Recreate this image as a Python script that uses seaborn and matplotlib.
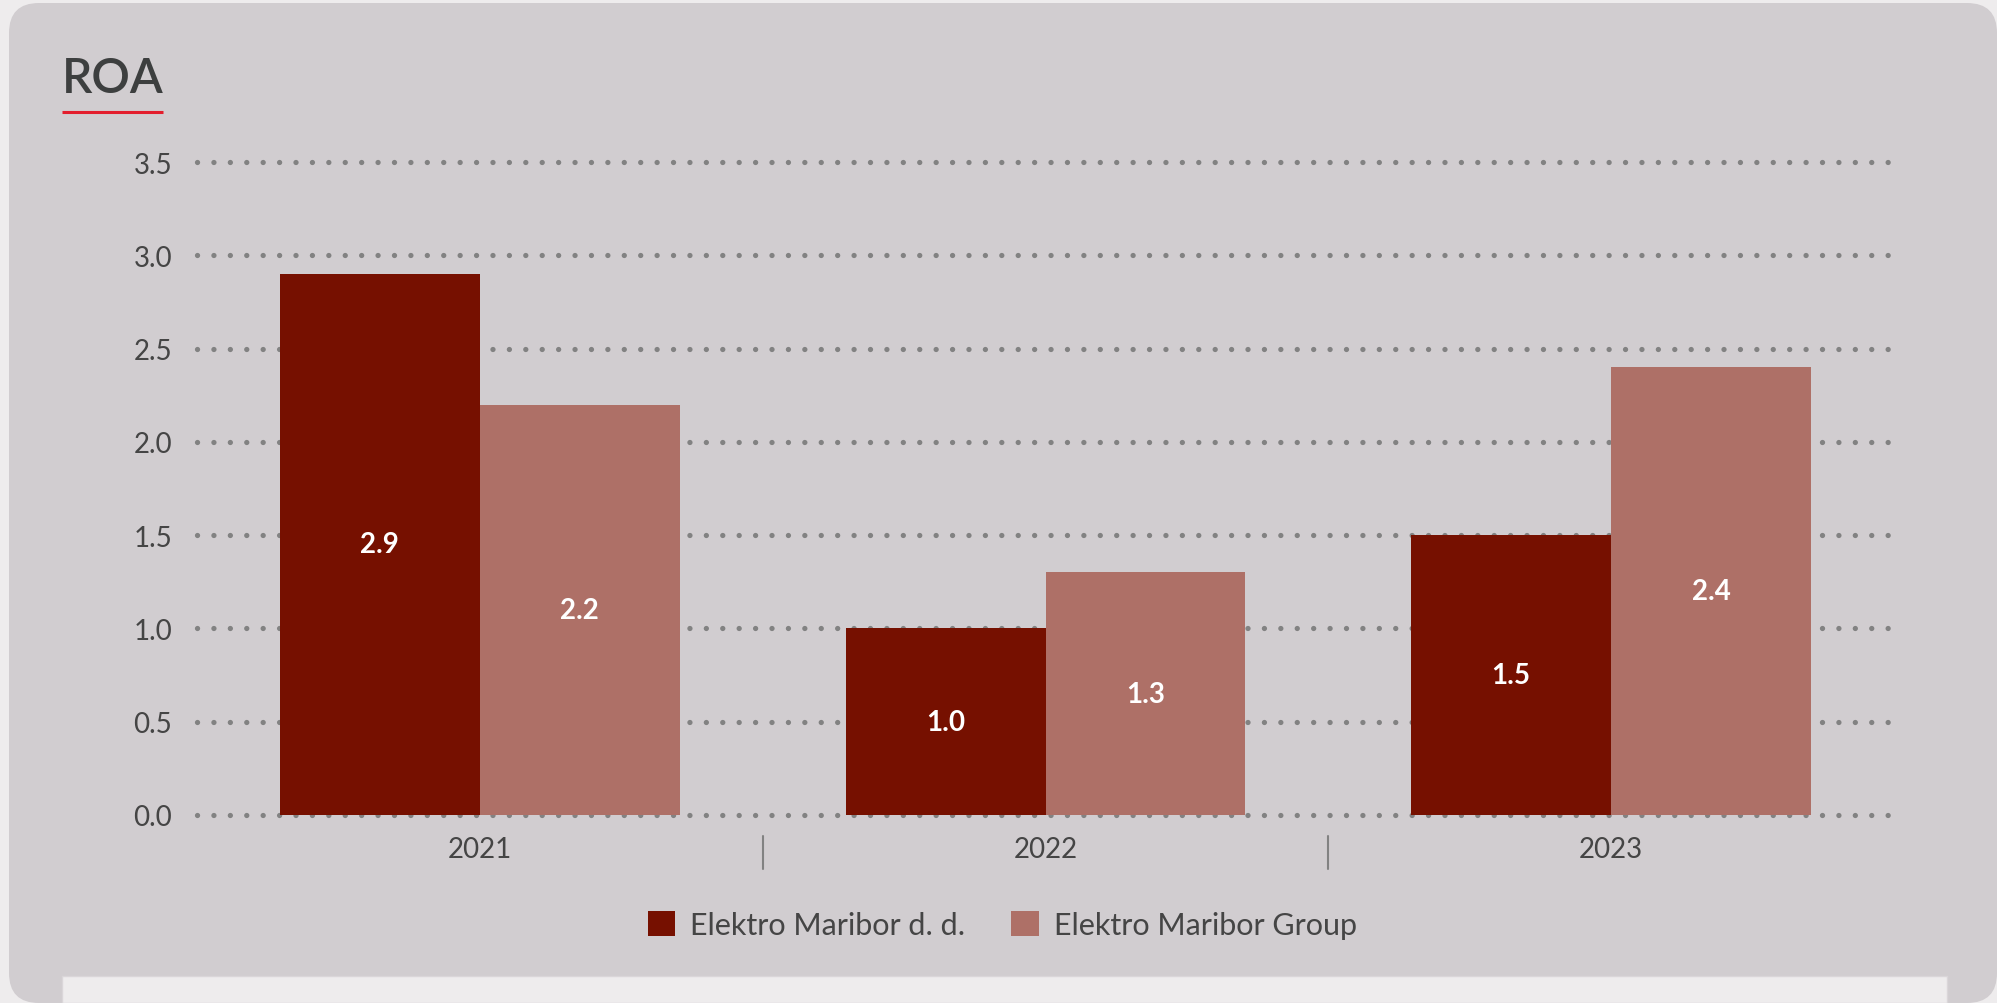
import matplotlib
matplotlib.use("Agg")
import matplotlib.pyplot as plt
import matplotlib.transforms as mtransforms
from matplotlib.patches import FancyBboxPatch, Rectangle, Patch
from matplotlib.lines import Line2D
import seaborn as sns
import pandas as pd

# ---- data ----
years = ["2021", "2022", "2023"]
company = [2.9, 1.0, 1.5]
group = [2.2, 1.3, 2.4]
series_names = ["Elektro Maribor d. d.", "Elektro Maribor Group"]
y_ticks = [0.0, 0.5, 1.0, 1.5, 2.0, 2.5, 3.0, 3.5]
title = "ROA"

# ---- style ----
DARK = "#761000"
LIGHT = "#AE7067"
CARD = "#D1CDD0"
PAGE = "#EEECED"
TEXT = "#454545"
GRID = "#828282"

sns.set_theme(style="white")
plt.rcParams["font.family"] = ["Lato", "DejaVu Sans"]

W, H, DPI = 1997, 1004, 100
fig = plt.figure(figsize=(W / DPI, H / DPI), dpi=DPI, facecolor=PAGE)
px = mtransforms.IdentityTransform()

# rounded card behind everything
card = FancyBboxPatch((9, 0), W - 9, H - 4,
                      boxstyle="round,pad=0,rounding_size=30",
                      transform=px, facecolor=CARD, edgecolor="none", zorder=-10)
fig.patches.append(card)
# pale strip along the bottom
strip = Rectangle((62, 0), 1947 - 62, 27, transform=px,
                  facecolor=PAGE, edgecolor="#DAD6D9", linewidth=1, zorder=-9)
fig.patches.append(strip)

# title with red underline
fig.text(62, H - 93, title, transform=px, fontsize=34.5, fontweight="semibold",
         color="#3D3F3F", ha="left", va="baseline")
fig.lines.append(Line2D([62, 163], [H - 113, H - 113], transform=px,
                        color="#E31E2D", linewidth=2.2, solid_capstyle="butt"))

# ---- bars ----
df = pd.DataFrame({
    "year": years * 2,
    "roa": company + group,
    "series": [series_names[0]] * 3 + [series_names[1]] * 3,
})

ax = fig.add_axes([197 / W, 1 - 816 / H, (1894 - 197) / W, (816 - 163) / H])
ax.set_facecolor("none")

# dotted horizontal guides at every y tick, drawn below the bars
for yv in y_ticks:
    ax.axhline(yv, color=GRID, linewidth=3.8, linestyle=(0, (0.01, 3.1)),
               dash_capstyle="round", clip_on=False, zorder=1)

sns.barplot(data=df, x="year", y="roa", hue="series", order=years,
            hue_order=series_names, palette=[DARK, LIGHT], width=0.707,
            saturation=1, legend=False, ax=ax, linewidth=0, zorder=3)

for cont in ax.containers:
    ax.bar_label(cont, fmt="%.1f", label_type="center", color="white",
                 fontsize=20, fontweight="bold", zorder=4)

ax.set_xlim(-0.5, 2.5)
ax.set_ylim(0, 3.5)
ax.set_yticks(y_ticks)
ax.set_yticklabels([f"{v:.1f}" for v in y_ticks])
ax.set_xlabel("")
ax.set_ylabel("")
ax.grid(False)
for s in ax.spines.values():
    s.set_visible(False)
ax.tick_params(axis="both", length=0, labelsize=20, labelcolor=TEXT)
ax.tick_params(axis="y", pad=18)
ax.tick_params(axis="x", pad=15)

# separators between year groups
trans = mtransforms.blended_transform_factory(ax.transData, ax.transAxes)
for xs in [0.5, 1.5]:
    ax.plot([xs, xs], [-0.032, -0.083], transform=trans, color=GRID,
            linewidth=1.5, clip_on=False)

# legend
handles = [Patch(facecolor=c, edgecolor="none") for c in (DARK, LIGHT)]
leg = fig.legend(handles, series_names, loc="center", bbox_to_anchor=(0.502, 1 - 926 / H),
                 ncol=2, frameon=False, fontsize=22, handlelength=0.9,
                 handleheight=0.9, handletextpad=0.5, columnspacing=1.5)
for t in leg.get_texts():
    t.set_color(TEXT)

fig.savefig("out.png", dpi=DPI, facecolor=PAGE)
